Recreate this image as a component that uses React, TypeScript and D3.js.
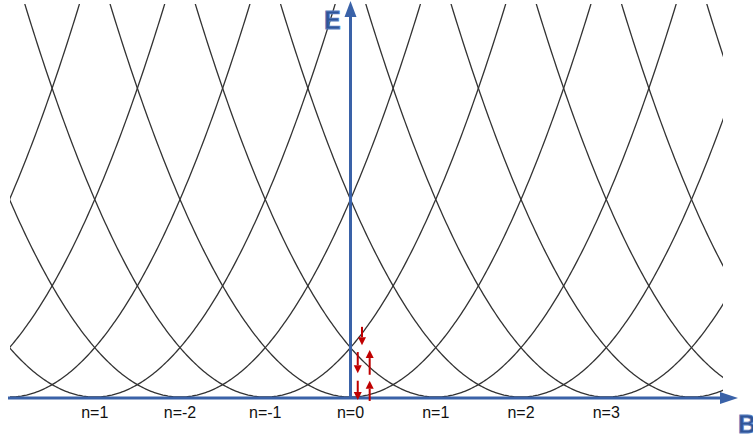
import React from 'react';
import * as d3 from 'd3';

// flux quantum index of each parabola (vertex position on the B axis)
const fluxStates = [-6, -5, -4, -3, -2, -1, 0, 1, 2, 3, 4, 5, 6, 7];

// labels under the B axis, as printed in the figure
const stateLabels = ['n=1', 'n=-2', 'n=-1', 'n=0', 'n=1', 'n=2', 'n=3'];
const labelPositions = [-3, -2, -1, 0, 1, 2, 3];

// red spin arrows near n=0: [B, E start, E end]
const spinArrows: [number, number, number][] = [
  [0.135, 1.42, 1.05],
  [0.085, 0.91, 0.48],
  [0.225, 0.45, 0.95],
  [0.085, 0.33, -0.06],
  [0.225, -0.08, 0.33],
];

const W = 753;
const H = 434;
const AXIS = '#3a62a8';
const RED = '#c00000';

export default function App() {
  const x = d3.scaleLinear().domain([0, 1]).range([350.5, 435.75]);
  const y = d3.scaleLinear().domain([0, 1]).range([397, 347.6]);

  const line = d3
    .line<[number, number]>()
    .x((d) => x(d[0]))
    .y((d) => y(d[1]))
    .curve(d3.curveLinear);

  const parabola = (n: number) => {
    const pts: [number, number][] = d3
      .range(-3, 3.001, 0.02)
      .map((t) => [n + t, t * t]);
    return line(pts) || '';
  };

  const x0 = x(0);
  const yAxis = y(0) + 1;

  return (
    <svg
      width={W}
      height={H}
      style={{ position: 'absolute', left: 0, top: 0, background: '#fff' }}
      fontFamily="'Liberation Sans', Arial, sans-serif"
    >
      <defs>
        <clipPath id="plot">
          <rect x={10} y={4} width={713} height={yAxis - 4} />
        </clipPath>
      </defs>

      <g clipPath="url(#plot)" fill="none" stroke="#333" strokeWidth={1.3}>
        {fluxStates.map((n) => (
          <path key={n} d={parabola(n)} />
        ))}
      </g>

      {/* B axis */}
      <line x1={8} x2={722} y1={yAxis} y2={yAxis} stroke={AXIS} strokeWidth={3} />
      <path d={`M738,${yAxis} L720,${yAxis - 6} L720,${yAxis + 6} Z`} fill={AXIS} />
      {/* E axis */}
      <line x1={x0} x2={x0} y1={yAxis + 1} y2={16} stroke={AXIS} strokeWidth={3} />
      <path d={`M${x0},1 L${x0 - 6},17 L${x0 + 6},17 Z`} fill={AXIS} />

      <text x={324} y={29} fontSize={25} fontWeight="bold" fill="#2f5597"
        stroke="#5b7fc0" strokeWidth={0.8}>E</text>
      <text x={738} y={433} fontSize={25} fontWeight="bold" fill="#2f5597"
        stroke="#5b7fc0" strokeWidth={0.8}>B</text>

      <g fontSize={16} fill="#111" textAnchor="middle">
        {stateLabels.map((s, i) => (
          <text key={i} x={x(labelPositions[i])} y={418}>{s}</text>
        ))}
      </g>

      <g>
        {spinArrows.map(([b, e0, e1], i) => {
          const ax = x(b);
          const ys = y(e0);
          const ye = y(e1);
          const dir = ye > ys ? 1 : -1;
          const base = ye - dir * 8;
          return (
            <g key={i}>
              <line x1={ax} x2={ax} y1={ys} y2={base} stroke={RED} strokeWidth={2} />
              <path d={`M${ax},${ye} L${ax - 4},${base} L${ax + 4},${base} Z`} fill={RED} />
            </g>
          );
        })}
      </g>
    </svg>
  );
}
